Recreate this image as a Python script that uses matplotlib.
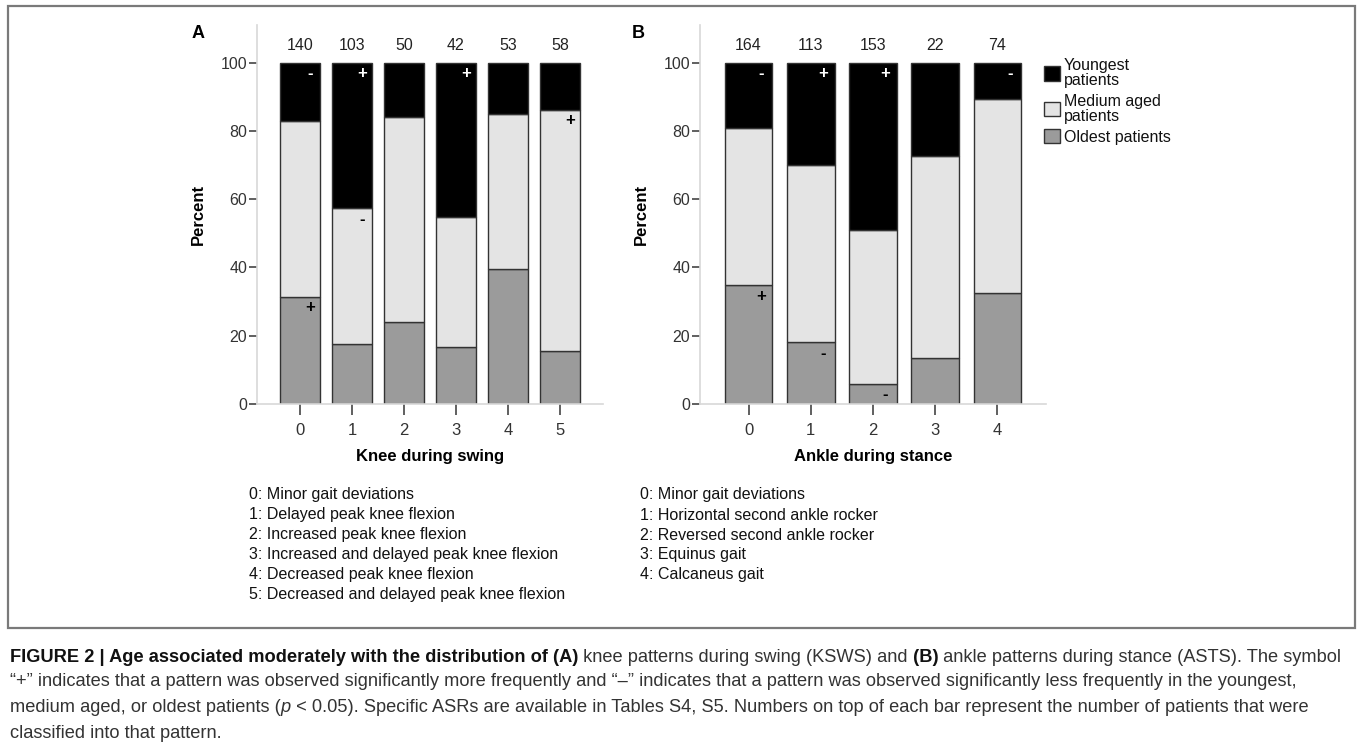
import matplotlib
matplotlib.use("Agg")
import matplotlib.pyplot as plt
from matplotlib.patches import Patch, Rectangle

W, H = 1357, 749

# stacked shares (percent) per gait pattern, bottom to top: oldest, medium aged, youngest
knee_codes = ["0", "1", "2", "3", "4", "5"]
knee_n = [140, 103, 50, 42, 53, 58]
knee_oldest = [31.4, 17.5, 24.0, 16.7, 39.6, 15.5]
knee_medium = [51.4, 39.8, 60.0, 38.1, 45.3, 70.7]
knee_youngest = [17.2, 42.7, 16.0, 45.2, 15.1, 13.8]
knee_sign_oldest = ["+", "", "", "", "", ""]
knee_sign_medium = ["", "-", "", "", "", "+"]
knee_sign_youngest = ["-", "+", "", "+", "", ""]

ankle_codes = ["0", "1", "2", "3", "4"]
ankle_n = [164, 113, 153, 22, 74]
ankle_oldest = [34.8, 18.1, 5.9, 13.6, 32.4]
ankle_medium = [46.1, 51.8, 45.1, 59.1, 56.8]
ankle_youngest = [19.1, 30.1, 49.0, 27.3, 10.8]
ankle_sign_oldest = ["+", "-", "-", "", ""]
ankle_sign_medium = ["", "", "", "", ""]
ankle_sign_youngest = ["-", "+", "+", "", "-"]

knee_names = [
    "0: Minor gait deviations",
    "1: Delayed peak knee flexion",
    "2: Increased peak knee flexion",
    "3: Increased and delayed peak knee flexion",
    "4: Decreased peak knee flexion",
    "5: Decreased and delayed peak knee flexion",
]
ankle_names = [
    "0: Minor gait deviations",
    "1: Horizontal second ankle rocker",
    "2: Reversed second ankle rocker",
    "3: Equinus gait",
    "4: Calcaneus gait",
]

group_labels = ["Youngest\npatients", "Medium aged\npatients", "Oldest patients"]
col_young = "#000000"
col_medium = "#e4e4e4"
col_old = "#9b9b9b"

plt.rcParams["font.family"] = ["Liberation Sans", "DejaVu Sans"]


def fx(x):
    return x / W


def fy(y):
    return 1 - y / H


def panel(ax, codes, n, old, med, young, s_old, s_med, s_young, xlabel, margin):
    x = range(len(codes))
    kw = dict(width=0.77, edgecolor="#333333", linewidth=1.0)
    ax.bar(x, old, color=col_old, **kw)
    ax.bar(x, med, bottom=old, color=col_medium, **kw)
    top_base = [o + m for o, m in zip(old, med)]
    ax.bar(x, young, bottom=top_base, color=col_young, **kw)

    for i in x:
        ax.text(i, 105, str(n[i]), ha="center", va="center", fontsize=11.5, color="#222222")
        tops = [old[i], old[i] + med[i], old[i] + med[i] + young[i]]
        for sign, top, c in zip([s_old[i], s_med[i], s_young[i]], tops,
                                ["black", "black", "white"]):
            if sign:
                ax.text(i + 0.2, top - 3.2, sign, ha="center", va="center",
                        fontsize=12, fontweight="bold", color=c)

    ax.set_xlim(-margin, len(codes) - 1 + margin)
    ax.set_ylim(0, 111)
    ax.set_yticks([0, 20, 40, 60, 80, 100])
    ax.set_xticks(list(x))
    ax.set_xticklabels(codes)
    ax.tick_params(axis="y", length=6, width=1.2, color="#444444", pad=1,
                   labelsize=11.5, labelcolor="#333333")
    ax.tick_params(axis="x", length=8, width=1.2, color="#444444", pad=6,
                   labelsize=12, labelcolor="#333333")
    for s in ["top", "right"]:
        ax.spines[s].set_visible(False)
    for s in ["left", "bottom"]:
        ax.spines[s].set_color("#d8d8d8")
        ax.spines[s].set_linewidth(1.2)
    ax.set_ylabel("Percent", fontsize=12, fontweight="bold")
    ax.set_xlabel(xlabel, fontsize=12, fontweight="bold")


fig = plt.figure(figsize=(W / 100, H / 100), dpi=100)

axA = fig.add_axes([fx(257), fy(404), fx(346), 379 / H])
axB = fig.add_axes([fx(700), fy(404), fx(346), 379 / H])
panel(axA, knee_codes, knee_n, knee_oldest, knee_medium, knee_youngest,
      knee_sign_oldest, knee_sign_medium, knee_sign_youngest, "Knee during swing", 0.83)
panel(axB, ankle_codes, ankle_n, ankle_oldest, ankle_medium, ankle_youngest,
      ankle_sign_oldest, ankle_sign_medium, ankle_sign_youngest, "Ankle during stance", 0.78)
axA.yaxis.set_label_coords((198 - 257) / 346, 0.5)
axB.yaxis.set_label_coords((641 - 700) / 346, 0.5)
axA.xaxis.set_label_coords(0.5, -(456.7 - 404) / 379)
axB.xaxis.set_label_coords(0.5, -(456.7 - 404) / 379)
for ax in (axA, axB):
    ax.yaxis.label.set_va("center")
    ax.xaxis.label.set_va("center")

fig.text(fx(192), fy(34), "A", fontsize=13, fontweight="bold", va="center")
fig.text(fx(632), fy(34), "B", fontsize=13, fontweight="bold", va="center")

handles = [Patch(facecolor=c, edgecolor="#333333", linewidth=1.0)
           for c in [col_young, col_medium, col_old]]
leg = fig.legend(handles, group_labels, loc="upper left",
                 bbox_to_anchor=(fx(1044), fy(58)), frameon=False, borderpad=0,
                 borderaxespad=0, handlelength=1.0, handleheight=1.0,
                 handletextpad=0.25, labelspacing=0.35, fontsize=11.5)
for t in leg.get_texts():
    t.set_linespacing(1.0)
    t.set_color("#111111")

for i, s in enumerate(knee_names):
    fig.text(fx(249), fy(495 + 20 * i), s, fontsize=11.5, va="center", color="#111111")
for i, s in enumerate(ankle_names):
    fig.text(fx(640), fy(495 + 20 * i), s, fontsize=11.5, va="center", color="#111111")

# frame around the chart part, caption sits below it
fig.add_artist(Rectangle((fx(8), fy(628)), fx(1347), (628 - 6) / H, transform=fig.transFigure,
                         fill=False, edgecolor="#7a7a7a", linewidth=1.6))

caption = [
    [("FIGURE 2 | Age associated moderately with the distribution of (A)", "bold", "normal"),
     (" knee patterns during swing (KSWS) and", "normal", "normal"),
     (" (B)", "bold", "normal"),
     (" ankle patterns during stance (ASTS). The symbol", "normal", "normal")],
    [("\u201c+\u201d indicates that a pattern was observed significantly more frequently and "
      "\u201c\u2013\u201d indicates that a pattern was observed significantly less frequently in the youngest,",
      "normal", "normal")],
    [("medium aged, or oldest patients (", "normal", "normal"),
     ("p", "normal", "italic"),
     (" < 0.05). Specific ASRs are available in Tables S4, S5. Numbers on top of each bar "
      "represent the number of patients that were", "normal", "normal")],
    [("classified into that pattern.", "normal", "normal")],
]
caption_y = [657, 682, 707, 733]

renderer = fig.canvas.get_renderer()


def draw_line(runs, x0, y0, size, keep=True):
    x = x0
    made = []
    for s, weight, style in runs:
        t = fig.text(fx(x), fy(y0), s, fontsize=size, fontweight=weight, fontstyle=style,
                     va="center", color="#111111" if weight == "bold" else "#333333")
        x += t.get_window_extent(renderer).width
        made.append(t)
    if not keep:
        for t in made:
            t.remove()
    return x - x0


probe = draw_line(caption[0], 10, 300, 10, keep=False)
size = 10 * 1330 / probe
for runs, y in zip(caption, caption_y):
    draw_line(runs, 10, y, size)

fig.savefig("out.png", dpi=100)
